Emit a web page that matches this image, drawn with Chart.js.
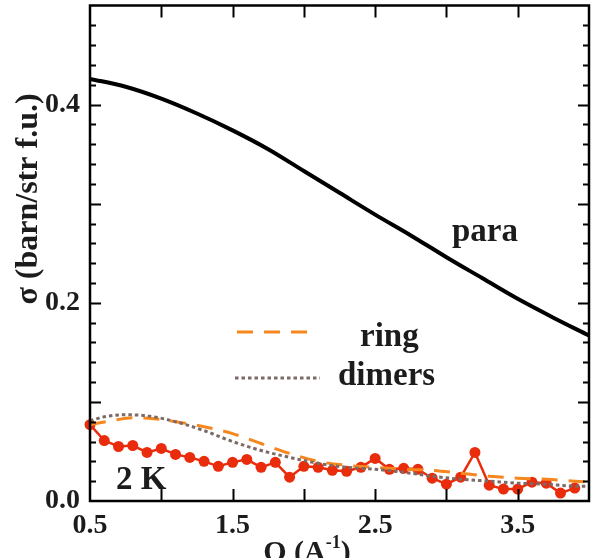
<!DOCTYPE html>
<html lang="en">
<head>
    <meta charset="UTF-8">
    <title>sigma vs Q</title>
    <script src="https://cdn.jsdelivr.net/npm/chart.js"></script>
    <style>
        body { margin: 0; background: #ffffff; }
        canvas { display: block; }
    </style>
</head>
<body>
<canvas id="chart" width="601" height="558"></canvas>
<script>
    // measured points at 2 K
    const qData = [0.5, 0.6, 0.7, 0.8, 0.9, 1.0, 1.1, 1.2, 1.3, 1.4, 1.5, 1.6, 1.7, 1.8, 1.9, 2.0, 2.1, 2.2,
                   2.3, 2.4, 2.5, 2.6, 2.7, 2.8, 2.9, 3.0, 3.1, 3.2, 3.3, 3.4, 3.5, 3.6, 3.7, 3.8, 3.9];
    const sigma2K = [0.077, 0.061, 0.055, 0.056, 0.049, 0.053, 0.047, 0.044, 0.040, 0.035, 0.039, 0.042, 0.034, 0.039, 0.024, 0.035, 0.034, 0.031,
                     0.030, 0.034, 0.043, 0.032, 0.033, 0.032, 0.023, 0.017, 0.024, 0.049, 0.016, 0.012, 0.012, 0.019, 0.018, 0.008, 0.013];

    // model curves
    const qPara = [0.5, 0.75, 1.0, 1.25, 1.5, 1.75, 2.0, 2.25, 2.5, 2.75, 3.0, 3.25, 3.5, 3.75, 4.0];
    const para = [0.426, 0.418, 0.406, 0.391, 0.374, 0.355, 0.333, 0.311, 0.289, 0.268, 0.246, 0.225, 0.204, 0.185, 0.167];

    const qRing = [0.5, 0.65, 0.8, 0.95, 1.1, 1.3, 1.5, 1.7, 1.9, 2.1, 2.3, 2.5, 2.7, 2.9, 3.1, 3.3, 3.5, 3.7, 3.9, 4.0];
    const ring = [0.077, 0.081, 0.084, 0.083, 0.080, 0.075, 0.068, 0.058, 0.048, 0.040, 0.036, 0.034, 0.032, 0.031, 0.028, 0.025, 0.023, 0.022, 0.020, 0.019];

    const qDimers = [0.5, 0.6, 0.75, 0.9, 1.1, 1.3, 1.5, 1.7, 1.9, 2.1, 2.3, 2.5, 2.7, 2.9, 3.1, 3.3, 3.5, 3.7, 3.9, 4.0];
    const dimers = [0.081, 0.085, 0.087, 0.086, 0.080, 0.071, 0.060, 0.051, 0.044, 0.038, 0.034, 0.032, 0.029, 0.025, 0.022, 0.020, 0.018, 0.017, 0.015, 0.015];

    const xLabels = [0.5, 1.5, 2.5, 3.5];
    const yLabels = [0.0, 0.2, 0.4];

    const FONT = '"Liberation Serif", "Times New Roman", serif';
    const INK = '#1c1c1c';
    const RED = '#e82c0c';
    const ORANGE = '#f6861e';
    const GREY = '#7b6a66';

    const pts = (xs, ys) => xs.map((x, i) => ({ x: x, y: ys[i] }));

    // frame, inward ticks, legend, labels and axis titles
    const decor = {
        id: 'decor',
        afterDraw(chart) {
            const ctx = chart.ctx;
            const a = chart.chartArea;
            const xs = chart.scales.x;
            const ys = chart.scales.y;
            ctx.save();
            ctx.strokeStyle = '#000';
            ctx.lineWidth = 2;

            // y ticks every 0.02, long every 0.1
            for (let k = 1; k < 25; k++) {
                const y = Math.round(ys.getPixelForValue(k * 0.02)) + 0.5;
                const len = (k % 5 === 0) ? 11 : 6;
                ctx.beginPath();
                ctx.moveTo(a.left, y); ctx.lineTo(a.left + len, y);
                ctx.moveTo(a.right, y); ctx.lineTo(a.right - len, y);
                ctx.stroke();
            }
            // x ticks every 0.5
            for (let k = 1; k < 7; k++) {
                const x = Math.round(xs.getPixelForValue(0.5 + k * 0.5)) + 0.5;
                ctx.beginPath();
                ctx.moveTo(x, a.bottom); ctx.lineTo(x, a.bottom - 12);
                ctx.moveTo(x, a.top); ctx.lineTo(x, a.top + 12);
                ctx.stroke();
            }
            ctx.lineWidth = 2.5;
            ctx.strokeRect(a.left, a.top, a.right - a.left, a.bottom - a.top);

            // legend
            ctx.lineWidth = 3;
            ctx.strokeStyle = ORANGE;
            ctx.setLineDash([16, 11]);
            ctx.beginPath(); ctx.moveTo(237, 332); ctx.lineTo(312, 332); ctx.stroke();
            ctx.strokeStyle = GREY;
            ctx.setLineDash([3.5, 3]);
            ctx.beginPath(); ctx.moveTo(235, 378); ctx.lineTo(320, 378); ctx.stroke();
            ctx.setLineDash([]);

            ctx.fillStyle = INK;
            ctx.font = 'bold 33px ' + FONT;
            ctx.textAlign = 'left';
            ctx.textBaseline = 'alphabetic';
            ctx.fillText('ring', 360, 346);
            ctx.fillText('dimers', 338, 385);
            ctx.fillText('para', 452, 241);
            ctx.fillText('2 K', 116, 489);

            // x title with superscript
            ctx.font = 'bold 30px ' + FONT;
            const p1 = 'Q (A', p3 = ')';
            const w1 = ctx.measureText(p1).width;
            ctx.font = 'bold 18px ' + FONT;
            const w2 = ctx.measureText('-1').width;
            ctx.font = 'bold 30px ' + FONT;
            const w3 = ctx.measureText(p3).width;
            let x0 = 307 - (w1 + w2 + w3) / 2;
            const base = 561;
            ctx.fillText(p1, x0, base);
            ctx.font = 'bold 18px ' + FONT;
            ctx.fillText('-1', x0 + w1, base - 13);
            ctx.font = 'bold 30px ' + FONT;
            ctx.fillText(p3, x0 + w1 + w2, base);

            // y title
            ctx.translate(29, 199);
            ctx.rotate(-Math.PI / 2);
            ctx.textAlign = 'center';
            ctx.textBaseline = 'middle';
            ctx.font = 'bold 32px ' + FONT;
            ctx.fillText('σ (barn/str f.u.)', 0, 0);
            ctx.restore();
        }
    };

    new Chart(document.getElementById('chart'), {
        type: 'line',
        data: {
            datasets: [
                {
                    label: 'para',
                    data: pts(qPara, para),
                    borderColor: '#000',
                    borderWidth: 4,
                    pointRadius: 0,
                    cubicInterpolationMode: 'monotone'
                },
                {
                    label: 'dimers',
                    data: pts(qDimers, dimers),
                    borderColor: GREY,
                    borderWidth: 3,
                    borderDash: [3.5, 3],
                    pointRadius: 0,
                    cubicInterpolationMode: 'monotone'
                },
                {
                    label: 'ring',
                    data: pts(qRing, ring),
                    borderColor: ORANGE,
                    borderWidth: 3,
                    borderDash: [16, 11],
                    pointRadius: 0,
                    cubicInterpolationMode: 'monotone'
                },
                {
                    label: '2 K',
                    data: pts(qData, sigma2K),
                    borderColor: RED,
                    backgroundColor: RED,
                    borderWidth: 2.5,
                    pointRadius: 5.5,
                    pointBorderWidth: 0,
                    tension: 0,
                    clip: false
                }
            ]
        },
        options: {
            responsive: false,
            animation: false,
            events: [],
            layout: { padding: { top: 3, right: 12, left: 0, bottom: 0 } },
            plugins: {
                legend: { display: false },
                tooltip: { enabled: false }
            },
            scales: {
                x: {
                    type: 'linear',
                    min: 0.5,
                    max: 4.0,
                    grid: { display: false, drawTicks: false },
                    border: { display: false },
                    afterFit: s => { s.height = 57; s.paddingLeft = 0; s.paddingRight = 0; },
                    ticks: {
                        stepSize: 0.5,
                        padding: 8,
                        color: INK,
                        font: { family: FONT, size: 28, weight: 'bold' },
                        maxRotation: 0,
                        autoSkip: false,
                        callback: v => xLabels.some(l => Math.abs(l - v) < 1e-6) ? v.toFixed(1) : ''
                    }
                },
                y: {
                    min: 0,
                    max: 0.5,
                    grid: { display: false, drawTicks: false },
                    border: { display: false },
                    afterFit: s => { s.width = 90; s.paddingTop = 0; s.paddingBottom = 0; },
                    ticks: {
                        stepSize: 0.1,
                        padding: 10,
                        color: INK,
                        font: { family: FONT, size: 28, weight: 'bold' },
                        autoSkip: false,
                        callback: v => yLabels.some(l => Math.abs(l - v) < 1e-6) ? v.toFixed(1) : ''
                    }
                }
            }
        },
        plugins: [decor]
    });
</script>
</body>
</html>
